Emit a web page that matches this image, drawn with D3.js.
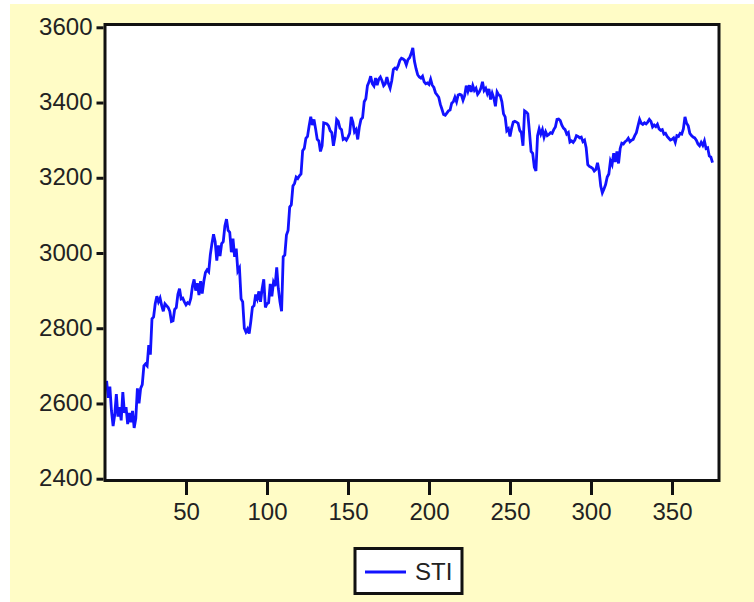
<!DOCTYPE html>
<html>
<head>
<meta charset="utf-8">
<script src="https://cdn.jsdelivr.net/npm/d3@7"></script>
<style>
  html, body { margin: 0; padding: 0; background: #fff; }
  svg { display: block; }
</style>
</head>
<body>
<svg id="chart" width="754" height="602"></svg>
<script>
const stiValues = [
  2660, 2615, 2645, 2580, 2540, 2570, 2625, 2565, 2590, 2555,
  2630, 2575, 2590, 2545, 2575, 2550, 2580, 2535, 2560, 2640,
  2600, 2640, 2650, 2700, 2705, 2700, 2755, 2730, 2825, 2830,
  2865, 2885, 2870, 2880, 2860, 2845, 2865, 2860, 2855, 2845,
  2818, 2820, 2850, 2855, 2890, 2905, 2878, 2880, 2870, 2862,
  2868, 2865, 2880, 2912, 2930, 2900, 2920, 2888, 2925, 2892,
  2925, 2948, 2955, 2950, 2995, 3025, 3050, 3030, 2980, 3020,
  2992, 3025, 3030, 3072, 3090, 3060, 3055, 3002, 3038, 2990,
  3012, 2952, 2960, 2878, 2870, 2800, 2790, 2798, 2786, 2818,
  2856, 2860, 2890, 2878, 2898, 2870, 2905, 2930, 2855, 2865,
  2868, 2918, 2885, 2922, 2912, 2962, 2905, 2870, 2845, 2990,
  2995, 3048, 3060, 3122, 3128, 3178, 3185, 3202, 3198, 3205,
  3210, 3272, 3278, 3305, 3310, 3338, 3362, 3340, 3355, 3330,
  3302, 3298, 3270, 3285, 3346, 3345, 3343, 3338, 3325, 3320,
  3285, 3310, 3355, 3350, 3332, 3328, 3302, 3305, 3300, 3308,
  3318, 3362, 3348, 3322, 3328, 3302, 3335, 3355, 3360, 3402,
  3410, 3445, 3455, 3470, 3450, 3444, 3465, 3446, 3462, 3468,
  3458, 3445, 3450, 3468, 3450, 3438, 3458, 3488, 3492, 3489,
  3498, 3512, 3518, 3516, 3512, 3500, 3514, 3519, 3530, 3545,
  3510, 3490, 3474, 3468, 3465, 3470, 3455, 3450, 3452, 3448,
  3462, 3446, 3440, 3426, 3420, 3414, 3395, 3382, 3368, 3366,
  3372, 3378, 3380, 3398, 3402, 3414, 3402, 3420, 3422, 3420,
  3406, 3418, 3445, 3430, 3446, 3428, 3445, 3432, 3438, 3422,
  3428, 3438, 3455, 3432, 3438, 3424, 3436, 3408, 3425, 3412,
  3390, 3428, 3420, 3418, 3402, 3370, 3362, 3325, 3330, 3310,
  3332, 3348, 3350, 3348, 3345, 3326, 3320, 3285, 3378, 3375,
  3370, 3322, 3270, 3265, 3228, 3218, 3312, 3330, 3316, 3328,
  3308, 3322, 3312, 3315, 3320, 3318, 3328, 3335, 3355, 3356,
  3352, 3340, 3332, 3328, 3316, 3320, 3295, 3298, 3294, 3300,
  3312, 3310, 3306, 3308, 3296, 3300, 3280, 3235, 3230, 3228,
  3225, 3218, 3222, 3240, 3218, 3178, 3160, 3170, 3182, 3202,
  3210, 3245, 3235, 3265, 3242, 3270, 3238, 3278, 3292, 3290,
  3296, 3299, 3305, 3296, 3300, 3302, 3312, 3320, 3338, 3355,
  3345, 3342, 3346, 3343, 3348, 3355, 3350, 3335, 3340, 3336,
  3342, 3330, 3326, 3328, 3316, 3318, 3310, 3305, 3300, 3302,
  3306, 3294, 3312, 3310, 3318, 3316, 3330, 3362, 3345, 3338,
  3318, 3312, 3308, 3306, 3300, 3290, 3285, 3294, 3286, 3298,
  3278, 3280, 3258, 3255, 3240
];
const xTicks = [50, 100, 150, 200, 250, 300, 350];
const yTicks = [2400, 2600, 2800, 3000, 3200, 3400, 3600];
const seriesName = "STI";

const data = stiValues.map((v, i) => ({ obs: i + 1, value: v }));

const svg = d3.select("#chart");
const font = "'Liberation Sans', Arial, sans-serif";

// page background: thin white edge then pale yellow
svg.append("rect")
  .attr("x", 10).attr("y", 4)
  .attr("width", 744).attr("height", 598)
  .attr("fill", "#fffcc6");

const box = { left: 105, right: 719, top: 24.5, bottom: 480.5 };

const x = d3.scaleLinear()
  .domain([0, 379])
  .range([box.left, box.right]);

const y = d3.scaleLinear()
  .domain([2400, 3600])
  .range([478.7, 27.3]);

// plot area
svg.append("rect")
  .attr("x", box.left).attr("y", box.top)
  .attr("width", box.right - box.left)
  .attr("height", box.bottom - box.top)
  .attr("fill", "#fff");

// series line
const line = d3.line()
  .x(d => x(d.obs))
  .y(d => y(d.value));

svg.append("path")
  .datum(data)
  .attr("fill", "none")
  .attr("stroke", "#1212ff")
  .attr("stroke-width", 2.8)
  .attr("stroke-linejoin", "miter")
  .attr("d", line);

// frame drawn on top of the line
svg.append("rect")
  .attr("x", box.left).attr("y", box.top)
  .attr("width", box.right - box.left)
  .attr("height", box.bottom - box.top)
  .attr("fill", "none")
  .attr("stroke", "#111")
  .attr("stroke-width", 3);

// y axis
svg.append("g")
  .attr("transform", `translate(${box.left - 1.5},0)`)
  .call(d3.axisLeft(y).tickValues(yTicks).tickSize(7).tickPadding(4).tickFormat(d3.format("d")))
  .call(g => g.select(".domain").remove())
  .call(g => g.selectAll(".tick line").attr("stroke", "#111").attr("stroke-width", 3))
  .call(g => g.selectAll(".tick text")
    .attr("fill", "#222")
    .attr("dy", "0.3em")
    .style("font-family", font)
    .style("font-size", "24px"));

// x axis
svg.append("g")
  .attr("transform", `translate(0,${box.bottom + 1.5})`)
  .call(d3.axisBottom(x).tickValues(xTicks).tickSize(13).tickPadding(8).tickFormat(d3.format("d")))
  .call(g => g.select(".domain").remove())
  .call(g => g.selectAll(".tick line").attr("stroke", "#111").attr("stroke-width", 3))
  .call(g => g.selectAll(".tick text")
    .attr("fill", "#222")
    .style("font-family", font)
    .style("font-size", "24px"));

// legend
const legend = svg.append("g").attr("transform", "translate(355,548.5)");

legend.append("rect")
  .attr("width", 107).attr("height", 45)
  .attr("fill", "#fff")
  .attr("stroke", "#111")
  .attr("stroke-width", 3);

legend.append("line")
  .attr("x1", 10).attr("x2", 51)
  .attr("y1", 23.5).attr("y2", 23.5)
  .attr("stroke", "#1212ff")
  .attr("stroke-width", 3);

legend.append("text")
  .attr("x", 60).attr("y", 31.5)
  .attr("fill", "#222")
  .style("font-family", font)
  .style("font-size", "24px")
  .text(seriesName);
</script>
</body>
</html>
